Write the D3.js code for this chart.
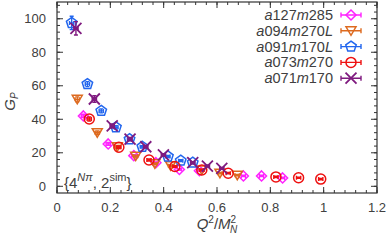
<!DOCTYPE html>
<html>
<head>
<meta charset="utf-8">
<script src="https://cdn.jsdelivr.net/npm/d3@7"></script>
<style>
  body { margin: 0; background: #fff; }
  text { font-family: "Liberation Sans", Arial, sans-serif; fill: #404040; }
</style>
</head>
<body>
<script>
var GP = {};     // chart scope

// ---- data ----
var ensembles = ["a127m285", "a094m270L", "a091m170L", "a073m270", "a071m170"];
var colors    = ["#ff22ff", "#dd6a1f", "#2266ee", "#ee1111", "#7f1a7f"];
var shapes    = ["diamond", "triangle", "pentagon", "circle", "cross"];

// Q^2/M_N^2
var q2_a127 = [0.099, 0.192, 0.288, 0.371, 0.459, 0.534, 0.699, 0.767, 0.846];
var q2_a094 = [0.076, 0.151, 0.226, 0.295, 0.367, 0.426, 0.543, 0.611, 0.676];
var q2_a091 = [0.055, 0.114, 0.166, 0.221, 0.272, 0.320, 0.416, 0.464, 0.509];
var q2_a073 = [0.121, 0.232, 0.345, 0.442, 0.543, 0.642, 0.821, 0.906, 0.989];
var q2_a071 = [0.071, 0.140, 0.207, 0.274, 0.333, 0.399, 0.509, 0.564, 0.618];

// G_P
var gp_a127 = [42.0, 25.3, 18.3, 14.1, 10.0, 9.3, 6.2, 6.2, 5.0];
var gp_a094 = [51.9, 32.0, 23.6, 18.0, 13.5, 12.3, 9.8, 7.8, 6.6];
var gp_a091 = [97.5, 61.0, 45.0, 35.2, 28.1, 23.6, 17.8, 15.3, 14.1];
var gp_a073 = [40.2, 23.3, 15.7, 11.8, 9.7, 7.8, 5.6, 5.1, 4.3];
var gp_a071 = [94.3, 52.1, 36.0, 28.1, 23.6, 18.7, 14.1, 12.1, 10.7];

// errors on G_P
var err_a127 = [1.0, 0.8, 0.6, 0.5, 0.5, 0.4, 0.4, 0.4, 0.4];
var err_a094 = [1.5, 1.0, 0.8, 0.6, 0.5, 0.5, 0.4, 0.4, 0.4];
var err_a091 = [4.0, 1.5, 1.2, 1.0, 0.8, 0.7, 0.6, 0.6, 0.6];
var err_a073 = [1.2, 0.8, 0.6, 0.5, 0.5, 0.4, 0.4, 0.4, 0.4];
var err_a071 = [4.0, 2.0, 1.2, 1.0, 0.8, 0.7, 0.6, 0.6, 0.6];

var q2s  = [q2_a127, q2_a094, q2_a091, q2_a073, q2_a071];
var gps  = [gp_a127, gp_a094, gp_a091, gp_a073, gp_a071];
var errs = [err_a127, err_a094, err_a091, err_a073, err_a071];
var xErr = 0.008;   // x error half width

var xTicks = [0, 0.2, 0.4, 0.6, 0.8, 1, 1.2];
var yTicks = [0, 20, 40, 60, 80, 100];

GP.W = 390; GP.H = 240;
GP.m = { left: 57, right: 13, top: 2, bottom: 47 };

GP.svg = d3.select("body").append("svg")
    .attr("width", GP.W)
    .attr("height", GP.H);

GP.x = d3.scaleLinear().domain([0, 1.2]).range([GP.m.left, GP.W - GP.m.right]);
GP.y = d3.scaleLinear().domain([-4, 110]).range([GP.H - GP.m.bottom, GP.m.top]);

/* ---- frame + ticks (inward, mirrored on all sides) ---- */
var x0 = GP.x.range()[0], x1 = GP.x.range()[1];
var y0 = GP.y.range()[0], y1 = GP.y.range()[1];
var axC = "#333";

function minor(lo, hi, step) {
    var out = [];
    for (var v = lo; v <= hi + 1e-9; v += step) out.push(+v.toFixed(4));
    return out;
}
var xMinor = minor(0, 1.2, 0.04);
var yMinor = minor(0, 108, 4);

var axG = GP.svg.append("g").attr("stroke", axC).attr("stroke-width", 1);
function tickLines(vals, len) {
    vals.forEach(function(v) {
        var px = GP.x(v);
        axG.append("line").attr("x1", px).attr("x2", px).attr("y1", y0).attr("y2", y0 - len);
        axG.append("line").attr("x1", px).attr("x2", px).attr("y1", y1).attr("y2", y1 + len);
    });
}
tickLines(xMinor, 3);
tickLines(xTicks, 6);
function ytickLines(vals, len) {
    vals.forEach(function(v) {
        var py = GP.y(v);
        axG.append("line").attr("x1", x0).attr("x2", x0 + len).attr("y1", py).attr("y2", py);
        axG.append("line").attr("x1", x1).attr("x2", x1 - len).attr("y1", py).attr("y2", py);
    });
}
ytickLines(yMinor, 3);
ytickLines(yTicks, 6);
GP.svg.append("rect")
    .attr("x", x0).attr("y", y1)
    .attr("width", x1 - x0).attr("height", y0 - y1)
    .attr("fill", "none").attr("stroke", axC).attr("stroke-width", 1.2);

// tick labels
GP.svg.selectAll(".xl").data(xTicks).enter().append("text")
    .attr("class", "xl")
    .attr("x", function(d) { return GP.x(d); })
    .attr("y", 212)
    .attr("text-anchor", "middle")
    .attr("font-size", "13px")
    .text(function(d) { return d3.format("")(d); });
GP.svg.selectAll(".yl").data(yTicks).enter().append("text")
    .attr("class", "yl")
    .attr("x", 46)
    .attr("y", function(d) { return GP.y(d) + 4.5; })
    .attr("text-anchor", "end")
    .attr("font-size", "13px")
    .text(function(d) { return d; });

// axis titles
var xt = GP.svg.append("text")
    .attr("x", (x0 + x1) / 2).attr("y", 229)
    .attr("text-anchor", "middle")
    .attr("font-size", "15px");
xt.append("tspan").attr("font-style", "italic").text("Q");
xt.append("tspan").attr("font-size", "10px").attr("dy", -6).text("2");
xt.append("tspan").attr("dy", 6).text("/");
xt.append("tspan").attr("font-style", "italic").text("M");
xt.append("tspan").attr("font-size", "10px").attr("dy", -6).text("2");
xt.append("tspan").attr("font-size", "10px").attr("font-style", "italic").attr("dx", -6).attr("dy", 10).text("N");

var yt = GP.svg.append("text")
    .attr("transform", "translate(15," + ((y0 + y1) / 2 + 4) + ") rotate(-90)")
    .attr("text-anchor", "middle")
    .attr("font-size", "15px");
yt.append("tspan").attr("font-style", "italic").text("G");
yt.append("tspan").attr("font-size", "10px").attr("font-style", "italic").attr("dy", 3).text("P");

// annotation {4^{Nπ}, 2^{sim}}
var an = GP.svg.append("text").attr("x", 64).attr("y", 188).attr("font-size", "15px");
an.append("tspan").text("{4");
an.append("tspan").attr("font-size", "11px").attr("font-style", "italic").attr("dy", -7).text("Nπ");
an.append("tspan").attr("dy", 7).text(", 2");
an.append("tspan").attr("font-size", "11px").attr("dy", -7).text("sim");
an.append("tspan").attr("dy", 7).text("}");

/* ---- marker shapes ---- */
GP.shapePath = function(kind) {
    var p = d3.path(), i, a, r;
    if (kind === "diamond") {
        r = 5;
        p.moveTo(0, -r); p.lineTo(r, 0); p.lineTo(0, r); p.lineTo(-r, 0); p.closePath();
    } else if (kind === "triangle") {
        p.moveTo(-5, -4); p.lineTo(5, -4); p.lineTo(0, 4.5); p.closePath();
    } else if (kind === "pentagon") {
        r = 5.5;
        for (i = 0; i < 5; i++) {
            a = -Math.PI / 2 + i * 2 * Math.PI / 5;
            if (i === 0) p.moveTo(r * Math.cos(a), r * Math.sin(a));
            else p.lineTo(r * Math.cos(a), r * Math.sin(a));
        }
        p.closePath();
    } else if (kind === "circle") {
        p.arc(0, 0, 5, 0, 2 * Math.PI);
    } else if (kind === "cross") {
        r = 5.5;
        p.moveTo(-r, -r); p.lineTo(r, r); p.moveTo(-r, r); p.lineTo(r, -r);
    }
    return p.toString();
};

/* ---- data points ---- */
ensembles.forEach(function(name, k) {
    var pts = q2s[k].map(function(q, i) { return { q: q, g: gps[k][i], e: errs[k][i] }; });
    var g = GP.svg.append("g")
        .attr("stroke", colors[k])
        .attr("fill", "none")
        .attr("stroke-width", 1.4);
    var pg = g.selectAll("g").data(pts).enter().append("g");
    // y error bars
    pg.append("line")
        .attr("x1", function(d) { return GP.x(d.q); })
        .attr("x2", function(d) { return GP.x(d.q); })
        .attr("y1", function(d) { return GP.y(d.g - d.e); })
        .attr("y2", function(d) { return GP.y(d.g + d.e); });
    pg.append("path")
        .attr("d", function(d) {
            var cx = GP.x(d.q), yt = GP.y(d.g + d.e), yb = GP.y(d.g - d.e);
            return "M" + (cx - 2) + "," + yt + "H" + (cx + 2) + "M" + (cx - 2) + "," + yb + "H" + (cx + 2);
        });
    // x error bars
    pg.append("path")
        .attr("d", function(d) {
            var cy = GP.y(d.g), xa = GP.x(d.q - xErr), xb = GP.x(d.q + xErr);
            return "M" + xa + "," + cy + "H" + xb +
                "M" + xa + "," + (cy - 2) + "V" + (cy + 2) +
                "M" + xb + "," + (cy - 2) + "V" + (cy + 2);
        });
    pg.append("path")
        .attr("transform", function(d) { return "translate(" + GP.x(d.q) + "," + GP.y(d.g) + ")"; })
        .attr("stroke-width", shapes[k] === "cross" ? 1.8 : 1.5)
        .attr("d", GP.shapePath(shapes[k]));
});

/* ---- legend ---- */
GP.leg = GP.svg.append("g");
ensembles.forEach(function(name, k) {
    var ly = 15 + k * 15.8;
    var parts = name.match(/[a-zA-Z]+|[0-9]+/g);
    var t = GP.leg.append("text")
        .attr("x", 333).attr("y", ly + 5)
        .attr("text-anchor", "end")
        .attr("font-size", "14.5px");
    parts.forEach(function(s) {
        var tp = t.append("tspan").text(s);
        if (/[a-zA-Z]/.test(s)) tp.attr("font-style", "italic");
    });
    var sg = GP.leg.append("g")
        .attr("transform", "translate(351," + ly + ")")
        .attr("stroke", colors[k]).attr("fill", "none").attr("stroke-width", 1.4);
    sg.append("path").attr("d", "M-10,0H10M-10,-2.5V2.5M10,-2.5V2.5");
    sg.append("path")
        .attr("stroke-width", shapes[k] === "cross" ? 1.8 : 1.5)
        .attr("d", GP.shapePath(shapes[k]));
});
</script>
</body>
</html>
